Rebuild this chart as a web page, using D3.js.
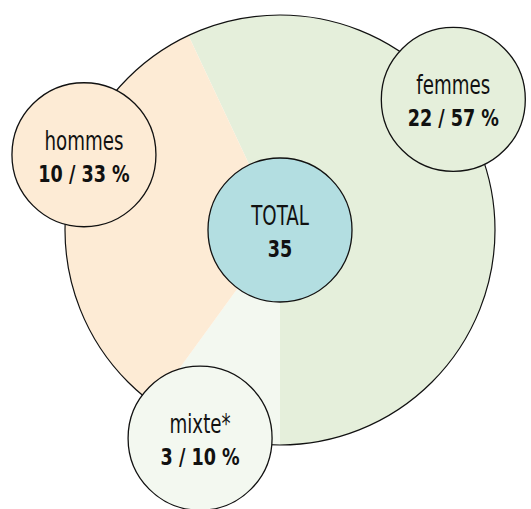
<!DOCTYPE html>
<html>
<head>
<meta charset="utf-8">
<script src="https://cdn.jsdelivr.net/npm/d3@7"></script>
<style>
  html, body { margin: 0; padding: 0; background: #fff; }
  svg text { font-family: "DejaVu Sans Condensed", "DejaVu Sans", sans-serif; font-stretch: condensed; fill: #111; }
</style>
</head>
<body>
<div id="chart"></div>
<script>
// data
const categories = ["femmes", "mixte*", "hommes"];
const counts     = [22, 3, 10];
const percents   = [57, 10, 33];
const totalLabel = "TOTAL";
const totalValue = 35;

// styling / layout
const WIDTH  = 531;
const HEIGHT = 509;
const CENTER = { x: 280, y: 230 };
const RADIUS = 215;
const BUBBLE = 72;
const colors = ["#e5efdb", "#f3f8f0", "#fdebd5"];
const totalColor = "#b3dee1";
// where each bubble sits around the pie (degrees from top, distance from centre)
const bubbleAngle = [53, 201, 291];
const bubbleDist  = [217, 223, 210];

const svg = d3.select("#chart").append("svg")
    .attr("width", WIDTH)
    .attr("height", HEIGHT);

const g = svg.append("g")
    .attr("transform", `translate(${CENTER.x},${CENTER.y})`);

const rows = categories.map((c, i) => ({ name: c, count: counts[i], pct: percents[i], color: colors[i] }));

// femmes slice ends exactly at the bottom
const start = Math.PI - (percents[0] / 100) * 2 * Math.PI;
const pie = d3.pie().sort(null).value(d => d.pct)
    .startAngle(start).endAngle(start + 2 * Math.PI);
const arc = d3.arc().innerRadius(0).outerRadius(RADIUS);

g.selectAll("path.slice")
    .data(pie(rows))
    .join("path")
    .attr("class", "slice")
    .attr("d", arc)
    .attr("fill", d => d.data.color);

g.append("circle")
    .attr("r", RADIUS)
    .attr("fill", "none")
    .attr("stroke", "#111")
    .attr("stroke-width", 1.2);

function bubble(sel, x, y, fill, line1, line2) {
    const b = sel.append("g").attr("transform", `translate(${x},${y})`);
    b.append("circle")
        .attr("r", BUBBLE)
        .attr("fill", fill)
        .attr("stroke", "#111")
        .attr("stroke-width", 1.3);
    // the original face is tall and narrow, so squeeze horizontally
    b.append("text")
        .attr("text-anchor", "middle")
        .attr("transform", "translate(0,-5) scale(0.78,1)")
        .attr("font-size", 26)
        .text(line1);
    b.append("text")
        .attr("text-anchor", "middle")
        .attr("transform", "translate(0,27) scale(0.85,1)")
        .attr("font-size", 23)
        .attr("font-weight", "bold")
        .text(line2);
}

rows.forEach((d, i) => {
    const a = bubbleAngle[i] * Math.PI / 180;
    const x = Math.sin(a) * bubbleDist[i];
    const y = -Math.cos(a) * bubbleDist[i];
    bubble(g, x, y, d.color, d.name, `${d.count} / ${d.pct} %`);
});

bubble(g, 0, 0, totalColor, totalLabel, totalValue);
</script>
</body>
</html>
